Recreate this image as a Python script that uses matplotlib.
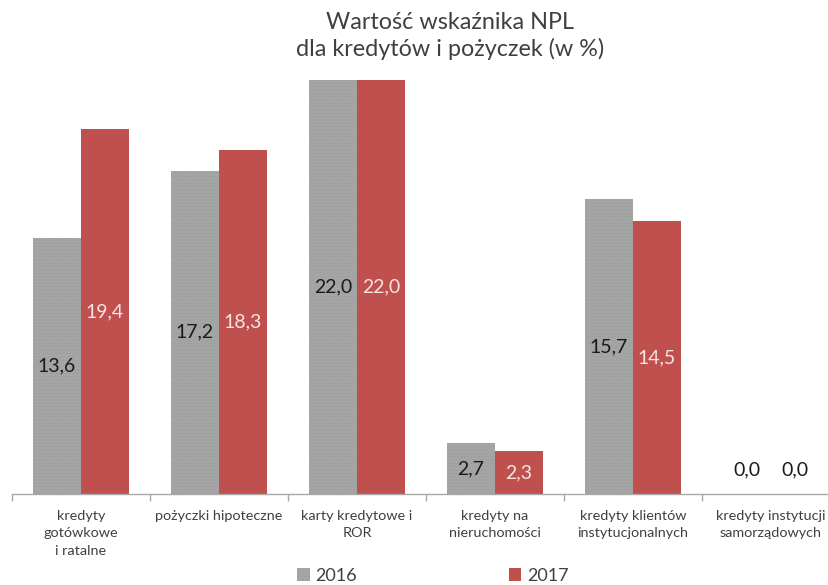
import numpy as np
import matplotlib
matplotlib.use("Agg")
import matplotlib.pyplot as plt

# dane: wskaźnik NPL (w %) wg rodzaju kredytu
kategorie = [
    "kredyty\ngotówkowe\ni ratalne",
    "pożyczki hipoteczne",
    "karty kredytowe i\nROR",
    "kredyty na\nnieruchomości",
    "kredyty klientów\ninstytucjonalnych",
    "kredyty instytucji\nsamorządowych",
]
npl_2016 = [13.6, 17.2, 22.0, 2.7, 15.7, 0.0]
npl_2017 = [19.4, 18.3, 22.0, 2.3, 14.5, 0.0]
lata = ["2016", "2017"]

SZARY = "#a5a5a5"
CZERWONY = "#c0504d"
TEKST = "#404040"

plt.rcParams["font.family"] = ["Lato", "DejaVu Sans"]
plt.rcParams["hatch.color"] = "#9a9a9a"
plt.rcParams["hatch.linewidth"] = 0.4

W, H = 829, 585
fig = plt.figure(figsize=(W / 100, H / 100), dpi=100)
# obszar wykresu w pikselach: od x=12, oś na y=494, skala ok. 18.8 px na 1 pkt %
ymax = 24
px_na_jedn = 18.8
ax = fig.add_axes([12 / W, (H - 494) / H, 828 / W, ymax * px_na_jedn / H])

x = np.arange(len(kategorie))
szer = 0.348
b1 = ax.bar(x - szer / 2, npl_2016, szer, color=SZARY, hatch=".....", linewidth=0, label=lata[0])
b2 = ax.bar(x + szer / 2, npl_2017, szer, color=CZERWONY, linewidth=0, label=lata[1])

def etykiety(bary, wartosci, kolor):
    for r, v in zip(bary, wartosci):
        if v > 0:
            y, c = v / 2, kolor
        else:
            # zero: etykieta nad osią, poza słupkiem
            y, c = 1.28, "#1a1a1a"
        ax.text(r.get_x() + r.get_width() / 2, y, f"{v:.1f}".replace(".", ","),
                ha="center", va="center", fontsize=14, color=c)

etykiety(b1, npl_2016, "#1a1a1a")
etykiety(b2, npl_2017, "#f4e4e3")

ax.set_xlim(-0.5, len(kategorie) - 0.5)
ax.set_ylim(0, ymax)
ax.set_yticks([])
for s in ["top", "right", "left"]:
    ax.spines[s].set_visible(False)
ax.spines["bottom"].set_color("#a8a8a8")
ax.spines["bottom"].set_linewidth(1.0)

ax.set_xticks(np.arange(len(kategorie) + 1) - 0.5)
ax.set_xticklabels([])
ax.tick_params(axis="x", direction="out", length=5, color="#a8a8a8", width=1)
for xi, k in zip(x, kategorie):
    ax.text(xi, -0.85, k, ha="center", va="top", fontsize=10.4, color=TEKST,
            linespacing=1.55, transform=ax.transData)

fig.text(450 / W, 1 - 36 / H, "Wartość wskaźnika NPL\ndla kredytów i pożyczek (w %)",
         ha="center", va="center", fontsize=16.8, color=TEKST, linespacing=1.25)

fig.legend(handles=[b1, b2], labels=lata, loc="center", bbox_to_anchor=(433 / W, 1 - 576 / H),
           ncol=2, frameon=False, fontsize=13, handlelength=0.7, handleheight=0.7,
           handletextpad=0.3, columnspacing=8.4, labelcolor=TEKST)

fig.savefig("out.png", dpi=100)
